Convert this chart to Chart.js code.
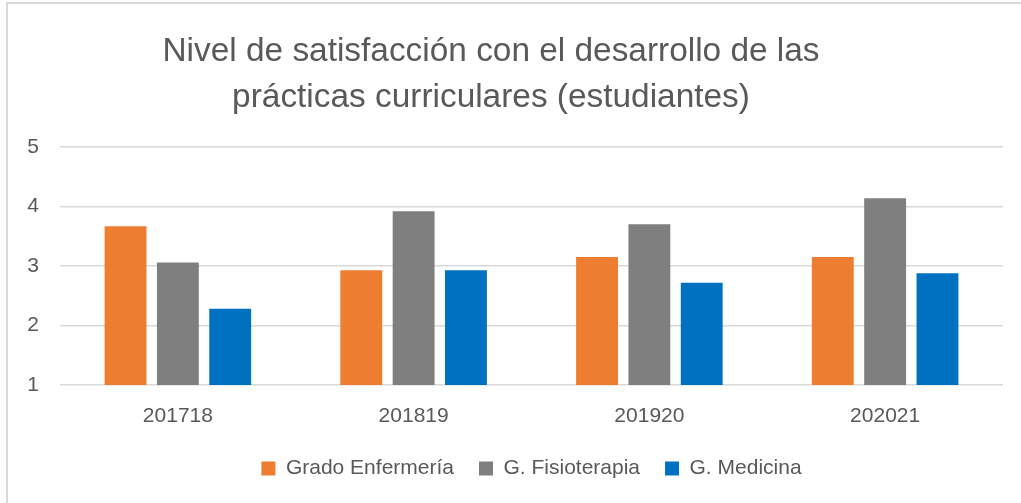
<!DOCTYPE html>
<html>
<head>
<meta charset="utf-8">
<script src="https://cdn.jsdelivr.net/npm/chart.js@4/dist/chart.umd.min.js"></script>
<style>
  html, body { margin: 0; padding: 0; background: #fff; }
  #wrap { width: 1021px; height: 503px; position: relative; }
</style>
</head>
<body>
<div id="wrap"><canvas id="chart"></canvas></div>
<script>
// Data
const categories = ['201718', '201819', '201920', '202021'];
const enfermeria = [3.67, 2.93, 3.15, 3.15];
const fisioterapia = [3.06, 3.92, 3.70, 4.14];
const medicina = [2.28, 2.93, 2.72, 2.88];
const seriesNames = ['Grado Enfermería', 'G. Fisioterapia', 'G. Medicina'];
const titleLines = ['Nivel de satisfacción con el desarrollo de las', 'prácticas curriculares (estudiantes)'];
const yTicks = [1, 2, 3, 4, 5];

const textColor = '#595959';
const fontFamily = "'Liberation Sans', Arial, sans-serif";

// white background, light frame and the two-line title
const framePlugin = {
    id: 'frame',
    beforeDraw(chart) {
        const ctx = chart.ctx;
        ctx.save();
        ctx.fillStyle = '#ffffff';
        ctx.fillRect(0, 0, chart.width, chart.height);
        ctx.fillStyle = '#d9d9d9';
        ctx.fillRect(6, 2, chart.width - 6, 2);
        ctx.fillRect(6, 2, 2, chart.height - 2);
        ctx.fillStyle = textColor;
        ctx.font = '33.4px ' + fontFamily;
        ctx.textAlign = 'center';
        ctx.textBaseline = 'alphabetic';
        ctx.fillText(titleLines[0], 491, 61);
        ctx.fillText(titleLines[1], 491, 107);
        ctx.restore();
    }
};

const ctx = document.getElementById('chart').getContext('2d');
new Chart(ctx, {
    type: 'bar',
    data: {
        labels: categories,
        datasets: [
            { label: seriesNames[0], data: enfermeria, backgroundColor: '#ed7d31' },
            { label: seriesNames[1], data: fisioterapia, backgroundColor: '#7f7f7f' },
            { label: seriesNames[2], data: medicina, backgroundColor: '#0070c0' }
        ]
    },
    options: {
        responsive: true,
        maintainAspectRatio: false,
        animation: false,
        categoryPercentage: 0.666,
        barPercentage: 0.8,
        layout: { padding: { left: 0, top: 147, right: 18, bottom: 14 } },
        plugins: {
            title: { display: false },
            tooltip: { enabled: false },
            legend: {
                position: 'bottom',
                fullSize: false,
                labels: {
                    color: textColor,
                    font: { family: fontFamily, size: 21 },
                    boxWidth: 14,
                    boxHeight: 14,
                    padding: 25
                }
            }
        },
        scales: {
            x: {
                grid: { display: false },
                border: { display: false },
                ticks: {
                    color: textColor,
                    font: { family: fontFamily, size: 21 },
                    padding: 11,
                    maxRotation: 0
                },
                afterFit(scale) { scale.height = 48; }
            },
            y: {
                min: 1,
                max: 5,
                border: { display: false },
                grid: { color: '#d9d9d9', lineWidth: 1.6, drawTicks: false },
                afterBuildTicks(scale) { scale.ticks = yTicks.map(v => ({ value: v })); },
                ticks: {
                    color: textColor,
                    font: { family: fontFamily, size: 21 },
                    padding: 21
                },
                afterFit(scale) { scale.width = 60; }
            }
        }
    },
    plugins: [framePlugin]
});
</script>
</body>
</html>
